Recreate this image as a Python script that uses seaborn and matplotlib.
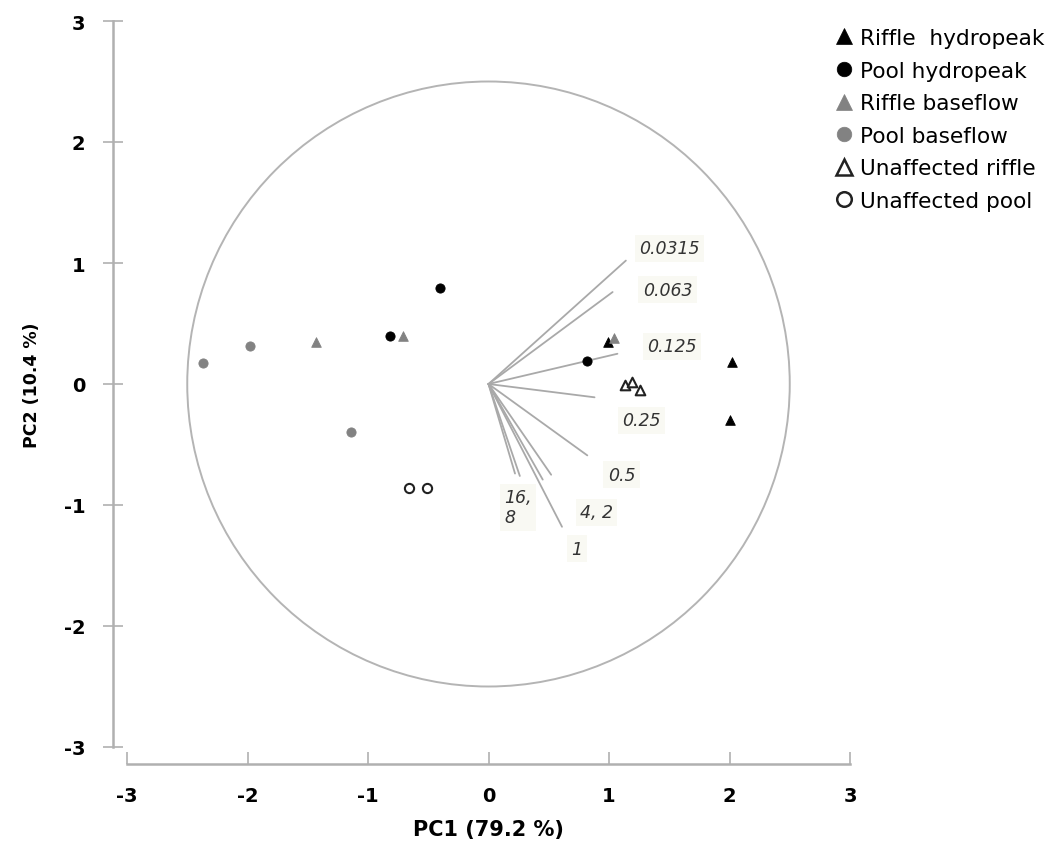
import matplotlib
matplotlib.use("Agg")
import matplotlib.pyplot as plt
from matplotlib.patches import Circle
from matplotlib.lines import Line2D
import seaborn as sns
import pandas as pd

sns.set_theme(style="white")
plt.rcParams["font.family"] = ["DejaVu Sans"]
plt.rcParams["text.color"] = "black"
plt.rcParams["axes.labelcolor"] = "black"
plt.rcParams["xtick.labelcolor"] = "black"
plt.rcParams["ytick.labelcolor"] = "black"

# Site scores on the first two principal components
riffle_hydropeak_pc1 = [2.02, 2.00, 0.99]
riffle_hydropeak_pc2 = [0.18, -0.30, 0.35]
pool_hydropeak_pc1 = [-0.40, -0.82, 0.82]
pool_hydropeak_pc2 = [0.79, 0.40, 0.19]
riffle_baseflow_pc1 = [-1.43, -0.71, 1.04]
riffle_baseflow_pc2 = [0.35, 0.40, 0.38]
pool_baseflow_pc1 = [-2.37, -1.98, -1.14]
pool_baseflow_pc2 = [0.17, 0.31, -0.40]
unaffected_riffle_pc1 = [1.13, 1.19, 1.26]
unaffected_riffle_pc2 = [-0.01, 0.02, -0.05]
unaffected_pool_pc1 = [-0.66, -0.51]
unaffected_pool_pc2 = [-0.86, -0.86]

# Loadings of grain-size fractions (mm)
fraction_names = ["0.0315", "0.063", "0.125", "0.25", "0.5", "1", "2", "4", "8", "16"]
loading_pc1 = [1.14, 1.03, 1.07, 0.88, 0.82, 0.61, 0.52, 0.45, 0.26, 0.22]
loading_pc2 = [1.02, 0.76, 0.25, -0.11, -0.59, -1.18, -0.75, -0.79, -0.76, -0.74]

# Loading labels (some fractions share a label)
loading_label_text = ["0.0315", "0.063", "0.125", "0.25", "0.5", "4, 2", "16,\n8", "1"]
loading_label_x = [1.25, 1.28, 1.32, 1.11, 0.99, 0.76, 0.13, 0.69]
loading_label_y = [1.12, 0.78, 0.31, -0.30, -0.75, -1.06, -1.02, -1.36]

correlation_radius = 2.5

groups = [
    ("Riffle  hydropeak", riffle_hydropeak_pc1, riffle_hydropeak_pc2, "^", "black", "black"),
    ("Pool hydropeak", pool_hydropeak_pc1, pool_hydropeak_pc2, "o", "black", "black"),
    ("Riffle baseflow", riffle_baseflow_pc1, riffle_baseflow_pc2, "^", "#828282", "#828282"),
    ("Pool baseflow", pool_baseflow_pc1, pool_baseflow_pc2, "o", "#828282", "#828282"),
    ("Unaffected riffle", unaffected_riffle_pc1, unaffected_riffle_pc2, "^", "white", "#222222"),
    ("Unaffected pool", unaffected_pool_pc1, unaffected_pool_pc2, "o", "white", "#222222"),
]

fig = plt.figure(figsize=(10.55, 8.54), dpi=100)
ax = fig.add_axes([127 / 1055, 106 / 854, 723 / 1055, 726 / 854])

ax.add_patch(Circle((0, 0), correlation_radius, fill=False, edgecolor="#b4b4b4", linewidth=1.4, zorder=1))

loadings = pd.DataFrame({"fraction": fraction_names, "PC1": loading_pc1, "PC2": loading_pc2})
for _, row in loadings.iterrows():
    ax.plot([0, row["PC1"]], [0, row["PC2"]], color="#a9a9a9", linewidth=1.3, zorder=2)

for text, lx, ly in zip(loading_label_text, loading_label_x, loading_label_y):
    ax.text(lx, ly, text, fontsize=12.5, style="italic", color="#333333",
            ha="left", va="center", zorder=3, linespacing=1.15,
            bbox=dict(boxstyle="square,pad=0.25", facecolor="#f9f9f3", edgecolor="none"))

handles = []
for name, xs, ys, marker, face, edge in groups:
    df = pd.DataFrame({"PC1": xs, "PC2": ys})
    open_marker = face == "white"
    sns.scatterplot(data=df, x="PC1", y="PC2", ax=ax, marker=marker,
                    s=48 if marker == "^" else 44, color=face, edgecolor=edge,
                    linewidth=1.5 if open_marker else 0.6, zorder=4, legend=False)
    handles.append(Line2D([], [], linestyle="none", marker=marker, markersize=12 if marker == "^" else 10.5,
                          markerfacecolor=face, markeredgecolor=edge,
                          markeredgewidth=1.8 if open_marker else 0.5, label=name))

ax.set_xlim(-3, 3)
ax.set_ylim(-3, 3)
ax.set_xticks([-3, -2, -1, 0, 1, 2, 3])
ax.set_yticks([-3, -2, -1, 0, 1, 2, 3])
ax.set_xticklabels(["-3", "-2", "-1", "0", "1", "2", "3"])
ax.set_yticklabels(["-3", "-2", "-1", "0", "1", "2", "3"])

for side in ["top", "right"]:
    ax.spines[side].set_visible(False)
ax.spines["left"].set_position(("outward", 10))
ax.spines["bottom"].set_position(("outward", 12))
for side in ["left", "bottom"]:
    ax.spines[side].set_color("#b0b0b0")
    ax.spines[side].set_linewidth(1.8)

ax.tick_params(axis="y", direction="inout", length=14, width=1.2, color="#b0b0b0",
               labelsize=14, pad=13, left=True)
ax.tick_params(axis="x", direction="in", length=9, width=1.2, color="#b0b0b0",
               labelsize=14, pad=16, bottom=True)
for lab in ax.get_xticklabels() + ax.get_yticklabels():
    lab.set_fontweight("bold")

ax.set_xlabel("PC1 (79.2 %)", fontsize=15, fontweight="bold", labelpad=10)
ax.set_ylabel("PC2 (10.4 %)", fontsize=12.5, fontweight="bold", labelpad=16)

fig.legend(handles=handles, loc="upper left", bbox_to_anchor=(833 / 1055, 1 - 29 / 854),
           frameon=False, fontsize=15.6, handletextpad=0.25, labelspacing=0.58,
           handlelength=1.0, borderaxespad=0, borderpad=0)

fig.savefig("out.png", dpi=100)
